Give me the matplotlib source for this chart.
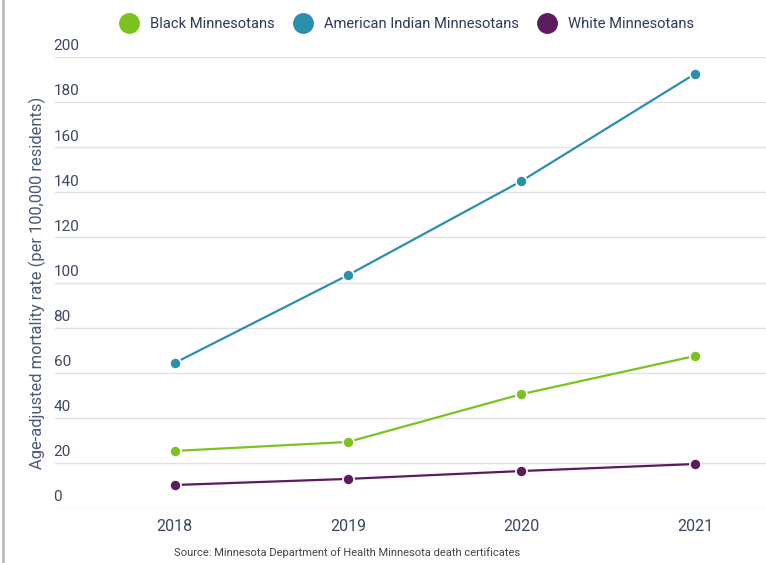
import matplotlib.pyplot as plt
from matplotlib.lines import Line2D

years = [2018, 2019, 2020, 2021]
black = [25.3, 29.3, 50.5, 67.4]
american_indian = [64.3, 103.3, 145.0, 192.5]
white = [10.2, 12.9, 16.4, 19.5]
labels = ['Black Minnesotans', 'American Indian Minnesotans', 'White Minnesotans']
colors = ['#7cc321', '#2b8fae', '#5a1c5c']
yticks = [0, 20, 40, 60, 80, 100, 120, 140, 160, 180, 200]

plt.rcParams['font.family'] = ['Roboto', 'DejaVu Sans']

fig = plt.figure(figsize=(7.66, 5.63), dpi=100)
ax = fig.add_axes([55 / 766, 1 - 508 / 563, 1 - 55 / 766, (508 - 57) / 563])

for vals, c in zip([black, american_indian, white], colors):
    ax.plot(years, vals, color=c, lw=1.6, marker='o', ms=8,
            mec='white', mew=1.2, mfc=c, clip_on=False, zorder=3)

ax.set_xlim(2018 - 0.69, 2021 + 0.41)
ax.set_ylim(0, 200)
ax.set_xticks(years)
ax.set_xticklabels([str(y) for y in years], fontsize=11.5, color='#3c4760')
ax.tick_params(axis='x', length=0, pad=8)
ax.set_yticks(yticks)
ax.set_yticklabels([])
ax.tick_params(axis='y', length=0)
ax.grid(axis='y', color='#e2e2e2', lw=1)
for s in ax.spines.values():
    s.set_visible(False)

for t in yticks:
    ax.text(-0.002, t + 1.6, str(t), transform=ax.get_yaxis_transform(),
            ha='left', va='bottom', fontsize=11, color='#3c4760')

fig.text(37 / 766, 1 - 283 / 563, 'Age-adjusted mortality rate (per 100,000 residents)',
         rotation=90, ha='center', va='center', fontsize=11.9, color='#4a5878')

handles = [Line2D([], [], ls='none', marker='o', ms=14, color=c) for c in colors]
fig.legend(handles, labels, loc='center', bbox_to_anchor=(404 / 766, 1 - 24 / 563),
           ncol=3, frameon=False, fontsize=10.6, handletextpad=0.45, columnspacing=0.9,
           labelcolor='#2e3a5c')

fig.text(174 / 766, 1 - 553 / 563,
         'Source: Minnesota Department of Health Minnesota death certificates',
         ha='left', va='center', fontsize=8, color='#444444')

fig.add_artist(Line2D([3 / 766, 3 / 766], [0, 1], color='#bdbdbd', lw=2))

fig.savefig('out.png', dpi=100)
